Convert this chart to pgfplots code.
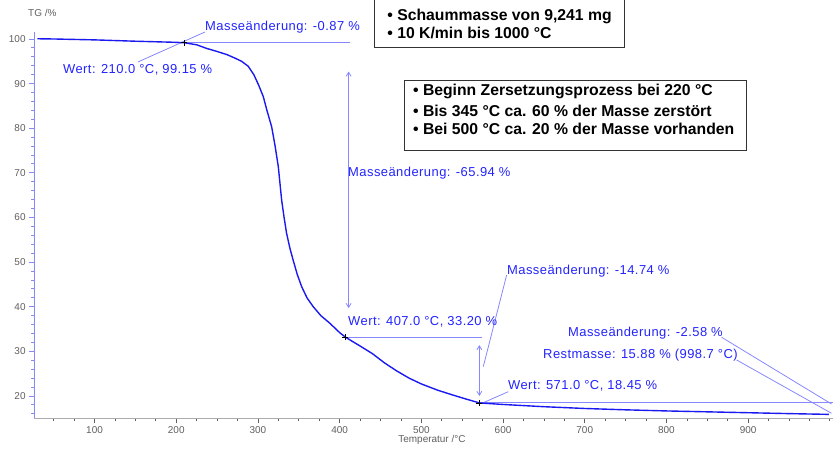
\documentclass[border=0pt]{standalone}
\usepackage{fontspec}
\setmainfont{Liberation Sans}
\usepackage{pgfplots}
\pgfplotsset{compat=1.18}
\usetikzlibrary{arrows.meta}
\definecolor{curve}{RGB}{25,25,240}
\definecolor{annot}{RGB}{35,35,255}
\definecolor{lineblue}{RGB}{135,135,255}
\definecolor{tickgray}{RGB}{95,95,95}
\begin{document}
\begin{tikzpicture}
\begin{axis}[
  at={(0,0)}, anchor=south west,
  scale only axis, width=799bp, height=386bp,
  xmin=26, xmax=1004, ymin=15, ymax=101.5,
  axis x line=bottom, axis y line=left,
  x axis line style={-, draw=gray!65, line width=1pt},
  y axis line style={-, draw=lineblue, line width=1pt},
  xtick={100,200,...,900}, minor xtick={50,75,...,1000},
  ytick={20,30,...,100}, minor ytick={16,18,...,100},
  tick align=outside,
  major tick length=5bp, minor tick length=3bp,
  x tick style={draw=tickgray, line width=0.7pt},
  y tick style={draw=lineblue, line width=0.9pt},
  tick label style={font=\fontsize{10}{12}\selectfont, text=tickgray},
  /pgf/number format/assume math mode=true,
  clip=false,
]
% reference lines
\addplot[lineblue, line width=1pt, forget plot] coordinates {(210,99.15) (413,99.15)};
\addplot[lineblue, line width=1pt, forget plot] coordinates {(407,33.2) (574,33.2)};
\addplot[lineblue, line width=1pt, forget plot] coordinates {(571,18.45) (1004,18.45)};
% arrows
\addplot[lineblue, line width=0.8pt, {Straight Barb[length=4bp,width=5bp]}-{Straight Barb[length=4bp,width=5bp]}, forget plot] coordinates {(411,92.7) (411,39.7)};
\addplot[lineblue, line width=0.8pt, {Straight Barb[length=4bp,width=5bp]}-{Straight Barb[length=4bp,width=5bp]}, forget plot] coordinates {(571,31.4) (571,20.0)};
% leader lines
\addplot[lineblue, line width=0.8pt, forget plot] coordinates {(235.2,101.57) (153.1,94.85)};
\addplot[lineblue, line width=0.8pt, forget plot] coordinates {(604.4,47.1) (575.8,26.57)};
\addplot[lineblue, line width=0.8pt, forget plot] coordinates {(575.8,18.5) (606.4,20.96)};
\addplot[lineblue, line width=0.8pt, forget plot] coordinates {(867.6,33.15) (1002,18.21)};
\addplot[lineblue, line width=0.8pt, forget plot] coordinates {(885.9,28.07) (1002,16.12)};
% TG curve
\addplot[curve, line width=1.4pt, line join=round] coordinates {
(30,100.05) (50,100.0) (100,99.8) (150,99.5) (200,99.25) (210,99.15)
(225,98.7) (237,97.9) (250,97.2) (262,96.5) (272,95.7) (280,95.0)
(288,93.9) (295,92.0) (301,89.6) (306.5,87.1) (311,84.0) (316.8,80.3) (321,76.0)
(324.9,71.4) (329,63.9) (332,60.0) (335,56.5) (339,53.2) (343,50.5)
(348,47.3) (353.5,44.5) (360,42.0) (367.7,40.0) (377,38.0) (388,36.3)
(400,34.2) (407,33.2) (415,32.3) (425,31.2) (440,29.5) (455,27.4)
(470,25.6) (485,24.0) (500,22.7) (520,21.3) (537,20.3) (555,19.3) (571,18.45)
(600,18.1) (650,17.6) (700,17.2) (750,16.9) (800,16.65) (850,16.45)
(900,16.25) (950,16.05) (998.7,15.88)
};
% markers
\addplot[only marks, mark=+, mark size=3bp, black, line width=0.6pt] coordinates {(210,99.15) (407,33.2) (571,18.45)};
% annotation texts
\begin{scope}[every node/.style={anchor=west, inner sep=0pt, text=annot, font=\fontsize{13}{15}\selectfont\addfontfeature{LetterSpace=3.5}}]
\node at (axis cs:235.2,102.7) {Masseänderung: -0.87 \%};
\node at (axis cs:61.3,93.05) {Wert: 210.0 °C, 99.15 \%};
\node at (axis cs:410.2,70.0) {Masseänderung: -65.94 \%};
\node at (axis cs:410.2,36.6) {Wert: 407.0 °C, 33.20 \%};
\node at (axis cs:604.8,48.0) {Masseänderung: -14.74 \%};
\node at (axis cs:606,22.2) {Wert: 571.0 °C, 18.45 \%};
\node at (axis cs:679.4,34.1) {Masseänderung: -2.58 \%};
\node at (axis cs:648.9,29.2) {Restmasse: 15.88 \% (998.7 °C)};
\end{scope}
% info boxes
\draw[black!80, line width=0.9pt, fill=white] (axis cs:443.1,98.05) rectangle (axis cs:749.1,113.2);
\draw[black!80, line width=0.9pt, fill=white] (axis cs:479.9,90.81) rectangle (axis cs:898.5,75.13);
\begin{scope}[every node/.style={anchor=west, inner sep=0pt, font=\bfseries\fontsize{15.8}{18}\selectfont}]
\node at (axis cs:458.3,105.15) {• Schaummasse von 9,241 mg};
\node at (axis cs:458.3,101.34) {• 10 K/min bis 1000 °C};
\node at (axis cs:489.7,88.19) {• Beginn Zersetzungsprozess bei 220 °C};
\node at (axis cs:489.7,83.93) {• Bis 345 °C ca. 60 \% der Masse zerstört};
\node at (axis cs:489.7,79.76) {• Bei 500 °C ca. 20 \% der Masse vorhanden};
\end{scope}
% axis labels
\node[anchor=west, inner sep=0pt, text=tickgray, font=\fontsize{10}{12}\selectfont] at (axis cs:18.5,105.8) {TG /\%};
\node[inner sep=0pt, text=tickgray, font=\fontsize{10}{12}\selectfont] at (axis cs:513,10.1) {Temperatur /°C};
\end{axis}
\pgfresetboundingbox
\useasboundingbox (-34.1bp,-31.7bp) rectangle (798.9bp,418.3bp);
\end{tikzpicture}
\end{document}
